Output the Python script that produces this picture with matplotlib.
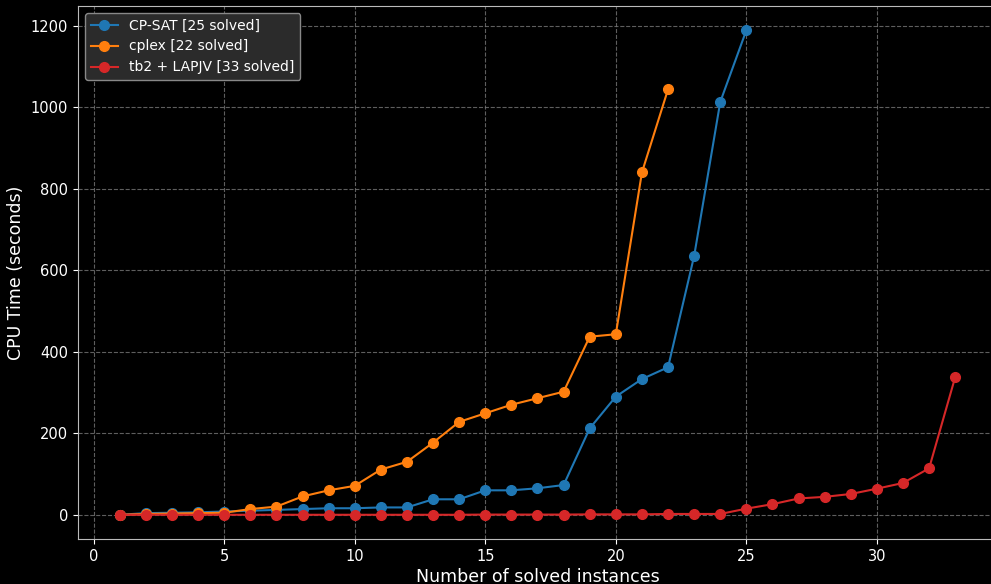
import numpy as np
import matplotlib
matplotlib.use("Agg")
import matplotlib.pyplot as plt

# cumulative CPU time per solver, sorted by instance runtime
cpsat_times = [0, 4, 5, 6, 8, 10, 12, 14, 16, 16, 18, 18, 38, 38, 60, 60, 65, 73,
               212, 290, 333, 362, 635, 1013, 1189]
cplex_times = [0, 2, 3, 4, 5, 14, 20, 45, 60, 71, 111, 130, 177, 228, 249, 270,
               286, 302, 437, 443, 840, 1044]
tb2_times = [0, 0, 0, 0, 0, 0, 0, 0, 0, 0, 0, 0, 0, 0, 0.5, 0.5, 0.5, 0.5, 1, 1,
             1, 2, 2, 2, 15, 26, 40, 44, 51, 64, 78, 114, 338]

solvers = ["CP-SAT", "cplex", "tb2 + LAPJV"]
series = [cpsat_times, cplex_times, tb2_times]
colors = ["#1f77b4", "#ff7f0e", "#d62728"]

plt.style.use("dark_background")
fig = plt.figure(figsize=(9.91, 5.84), dpi=100)
ax = fig.add_axes([78 / 991, 45 / 584, 919 / 991, 533 / 584])

for name, times, c in zip(solvers, series, colors):
    x = np.arange(1, len(times) + 1)
    ax.plot(x, times, marker="o", markersize=7, linewidth=1.5, color=c,
            label=f"{name} [{len(times)} solved]")

ax.set_xlabel("Number of solved instances", fontsize=12.5, labelpad=3)
ax.set_ylabel("CPU Time (seconds)", fontsize=12.5)
ax.grid(True, color="#777777", linestyle="--", linewidth=0.8, alpha=0.8)
for s in ax.spines.values():
    s.set_color("#bbbbbb")
ax.tick_params(labelsize=10.5, colors="white")
ax.set_xticks([0, 5, 10, 15, 20, 25, 30])

leg = ax.legend(loc="upper left", fontsize=10, facecolor="#2b2b2b",
                edgecolor="#888888", framealpha=1.0)

fig.savefig("out.png", dpi=100)
